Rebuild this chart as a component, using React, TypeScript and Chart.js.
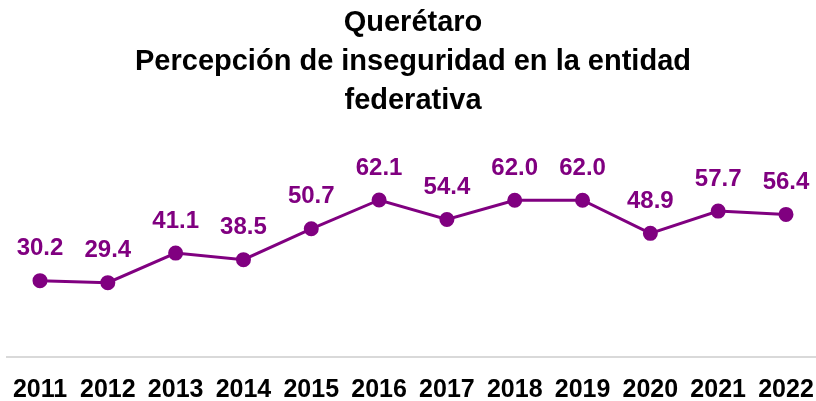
import React, { useEffect, useRef } from "react";
import { Chart, registerables } from "chart.js";

Chart.register(...registerables);

const years = ["2011", "2012", "2013", "2014", "2015", "2016", "2017", "2018", "2019", "2020", "2021", "2022"];
const values = [30.2, 29.4, 41.1, 38.5, 50.7, 62.1, 54.4, 62.0, 62.0, 48.9, 57.7, 56.4];
const titleLines = ["Querétaro", "Percepción de inseguridad en la entidad", "federativa"];

const PURPLE = "#800080";

const labelPlugin = {
  id: "valueLabels",
  afterDatasetsDraw(chart: any) {
    const ctx = chart.ctx;
    const meta = chart.getDatasetMeta(0);
    ctx.save();
    ctx.fillStyle = PURPLE;
    ctx.font = "bold 24px 'Liberation Sans', Arial, sans-serif";
    ctx.textAlign = "center";
    ctx.textBaseline = "middle";
    meta.data.forEach((pt: any, i: number) => {
      ctx.fillText(values[i].toFixed(1), pt.x, pt.y - 32);
    });
    ctx.restore();
  },
};

const axisLinePlugin = {
  id: "axisLine",
  beforeDatasetsDraw(chart: any) {
    const ctx = chart.ctx;
    const y = chart.scales.y.getPixelForValue(0);
    ctx.save();
    ctx.strokeStyle = "#d9d9d9";
    ctx.lineWidth = 2;
    ctx.beginPath();
    ctx.moveTo(6, y);
    ctx.lineTo(chart.width, y);
    ctx.stroke();
    ctx.restore();
  },
};

export default function App() {
  const ref = useRef<HTMLCanvasElement>(null);
  useEffect(() => {
    document.body.style.margin = "0";
    const chart = new Chart(ref.current!, {
      type: "line",
      data: {
        labels: years,
        datasets: [
          {
            data: values,
            borderColor: PURPLE,
            backgroundColor: PURPLE,
            borderWidth: 3,
            pointRadius: 6,
            pointBackgroundColor: PURPLE,
            pointBorderColor: PURPLE,
            tension: 0,
          },
        ],
      },
      options: {
        animation: false,
        responsive: false,
        maintainAspectRatio: false,
        layout: { padding: { left: 40, right: 30, top: 0, bottom: -14 } },
        plugins: {
          legend: { display: false },
          tooltip: { enabled: false },
          title: {
            display: true,
            text: titleLines,
            color: "#000",
            font: { family: "'Liberation Sans', Arial, sans-serif", size: 29, weight: "bold", lineHeight: 1.345 },
            padding: { top: 3, bottom: 60 },
          },
        },
        scales: {
          x: {
            offset: false,
            grid: { display: false },
            border: { display: false },
            afterFit: (scale: any) => {
              scale.paddingLeft = 0;
              scale.paddingRight = 0;
            },
            ticks: {
              color: "#000",
              font: { family: "'Liberation Sans', Arial, sans-serif", size: 25, weight: "bold" },
              padding: 10,
              maxRotation: 0,
              autoSkip: false,
            },
          },
          y: {
            display: false,
            min: 0,
            max: 70,
          },
        },
      },
      plugins: [labelPlugin, axisLinePlugin],
    });
    return () => chart.destroy();
  }, []);
  return <canvas ref={ref} width={816} height={401} style={{ display: "block" }} />;
}
